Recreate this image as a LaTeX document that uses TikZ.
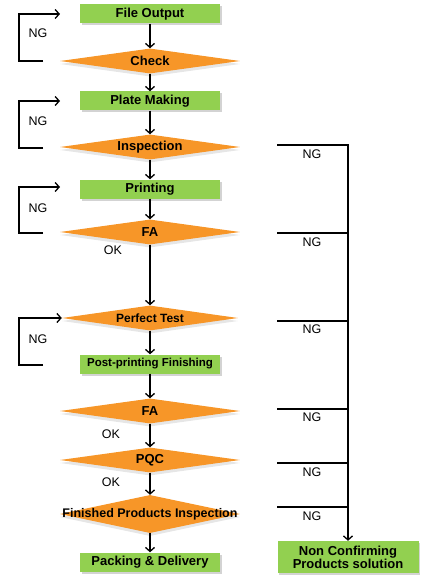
\documentclass[tikz,border=0pt]{standalone}
\usepackage{fontspec}
\setmainfont{Liberation Sans}
\usetikzlibrary{shapes.geometric,arrows.meta,shadows,positioning}

\definecolor{stgreen}{RGB}{146,208,80}
\definecolor{gtorange}{RGB}{247,150,40}

\tikzset{
		stage/.style={
			rectangle, minimum width=140pt, minimum height=19pt, inner sep=0pt, fill=stgreen,
			font=\bfseries\fontsize{13}{13}\selectfont,
			drop shadow={opacity=0.35, shadow xshift=1.5pt, shadow yshift=-2pt}},
		gate/.style={
			diamond, aspect=7, minimum width=180pt, minimum height=25pt, inner sep=0pt, fill=gtorange,
			font=\bfseries\fontsize{13}{13}\selectfont,
			drop shadow={opacity=0.2, shadow xshift=0pt, shadow yshift=-3pt}},
		edge/.style={draw,line width=1.3pt,black,-{Straight Barb[length=4pt,width=9pt]}},
		bar/.style={draw,line width=1.3pt,black},
		tag/.style={font=\fontsize{12.5}{12.5}\selectfont},
	}
\def\lx{19}
\def\rx{348}

\begin{document}
\begin{tikzpicture}[x=1pt, y=-1pt]
			\useasboundingbox (0,0) rectangle (427,580);
			\node[stage] (fout) at (150,14) {File Output};
			\node[gate] (check) at (150,61) {Check};
			\node[stage] (plate) at (150,101) {Plate Making};
			\node[gate] (insp) at (150,147) {Inspection};
			\node[stage] (print) at (150,189) {Printing};
			\node[gate] (fa1) at (150,232) {FA};
			\node[gate, minimum width=176pt] (ptest) at (150,318) {\fontsize{12}{12}\selectfont Perfect Test};
			\node[stage] (post) at (150,364) {\fontsize{11.5}{11.5}\selectfont Post-printing Finishing};
			\node[gate] (fa2) at (150,411) {FA};
			\node[gate] (pqc) at (150,460) {PQC};
			\node[gate, minimum height=38pt] (fpi) at (150,514) {\makebox[0pt]{\fontsize{12.5}{12.5}\selectfont Finished Products Inspection}};
			\node[stage] (pack) at (150,562) {Packing \& Delivery};
			\node[stage, minimum width=141pt, minimum height=32pt, align=center] (ncp) at (\rx,557) {Non Confirming\\Products solution};
			\draw[edge] (fout) -- (check);
			\draw[edge] (check) -- (plate);
			\draw[edge] (plate) -- (insp);
			\draw[edge] (insp) -- (print);
			\draw[edge] (print) -- (fa1);
			\draw[edge] (fa1) -- (ptest);
			\draw[edge] (ptest) -- (post);
			\draw[edge] (post) -- (fa2);
			\draw[edge] (fa2) -- (pqc);
			\draw[edge] (pqc) -- (fpi);
			\draw[edge] (fpi) -- (pack);
			\node[tag] (ok1) at (113,250) {OK};
			\node[tag] (ok2) at (111,434) {OK};
			\node[tag] (ok3) at (111,482) {OK};
			\coordinate (b1) at (43,61); \coordinate (t1) at (60,14);
			\coordinate (b2) at (43,148); \coordinate (t2) at (60,101);
			\coordinate (b3) at (43,233); \coordinate (t3) at (60,187);
			\coordinate (b4) at (43,365);
			\draw[edge] (b1) -- (\lx,61) -- (\lx,14) -- (t1);
			\draw[edge] (b2) -- (\lx,148) -- (\lx,101) -- (t2);
			\draw[edge] (b3) -- (\lx,233) -- (\lx,187) -- (t3);
			\draw[edge] (b4) -- (\lx,365) -- (\lx,318) -- (ptest.west);
			\node[tag] (ng1) at (38,33) {NG};
			\node[tag] (ng2) at (38,121) {NG};
			\node[tag] (ng3) at (38,208) {NG};
			\node[tag] (ng4) at (38,339) {NG};
			\coordinate (r1) at (277,145); \coordinate (r2) at (277,233); \coordinate (r3) at (277,321);
			\coordinate (r4) at (277,409); \coordinate (r5) at (277,463); \coordinate (r6) at (277,507);
			\coordinate (top) at (\rx,145);
			\draw[edge] (r1) -- (top) -- (ncp);
			\foreach \r/\y in {r2/233, r3/321, r4/409, r5/463, r6/507}
				\draw[bar] (\r) -- (\rx,\y);
			\node[tag] (ng5) at (312,154) {NG};
			\node[tag] (ng6) at (312,242) {NG};
			\node[tag] (ng7) at (312,329) {NG};
			\node[tag] (ng8) at (312,417) {NG};
			\node[tag] (ng9) at (312,472) {NG};
			\node[tag] (ng10) at (312,516) {NG};
			\end{tikzpicture}
\end{document}
